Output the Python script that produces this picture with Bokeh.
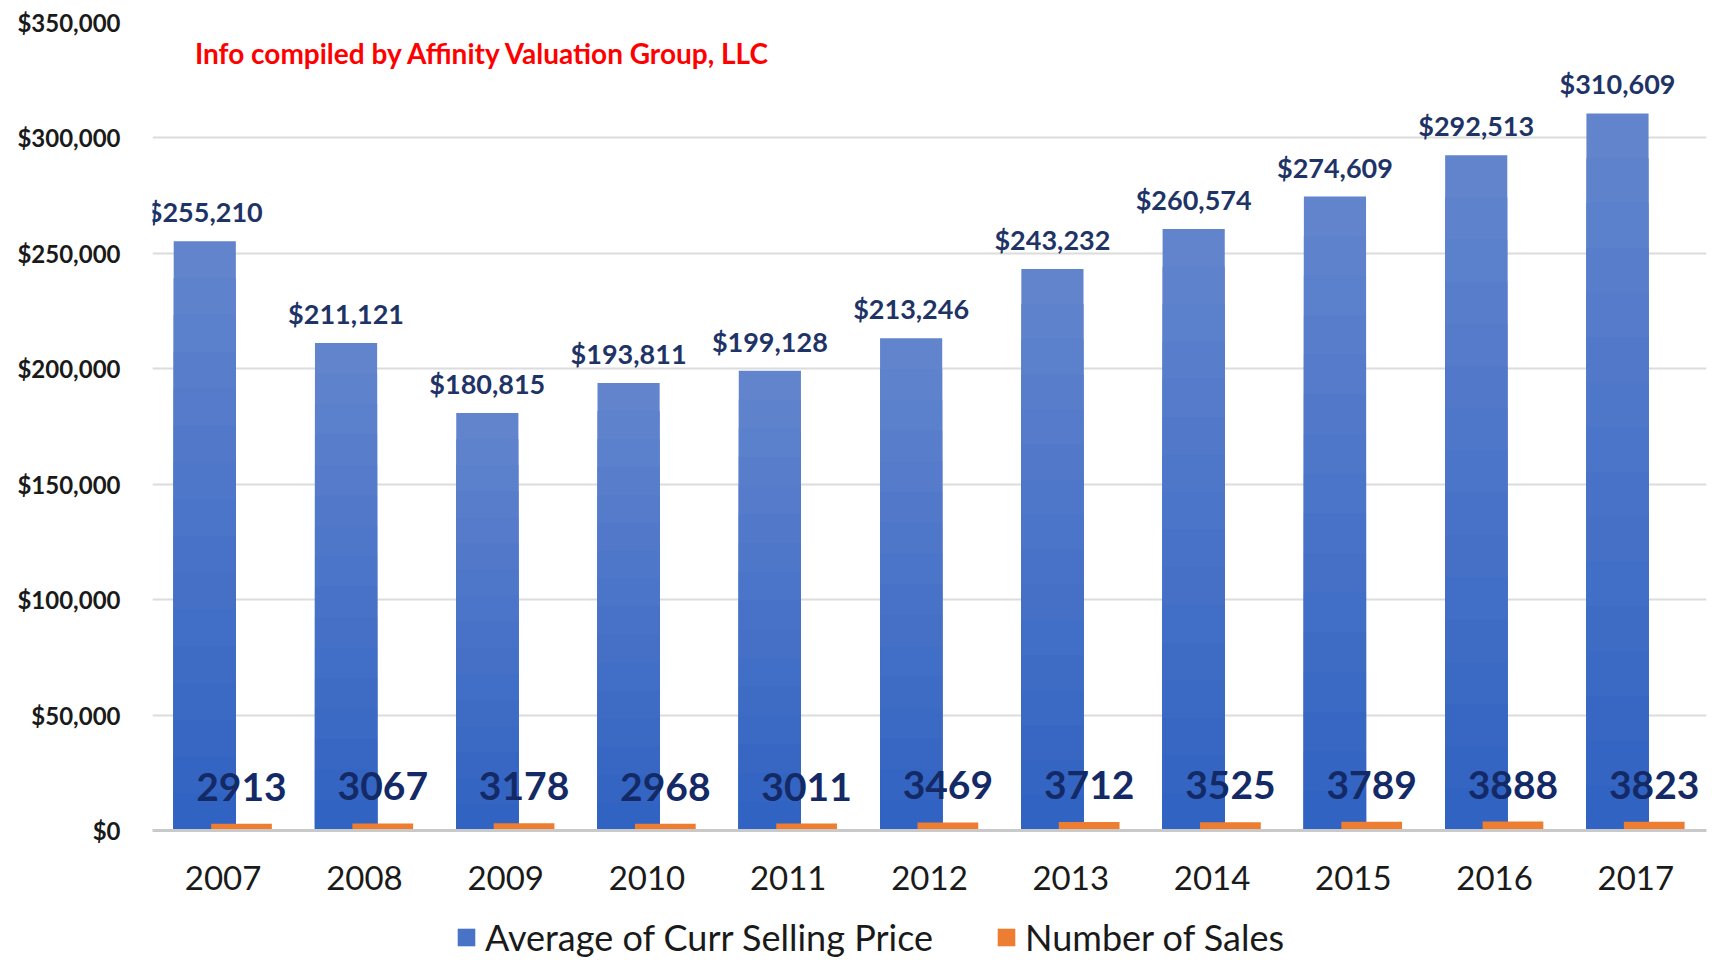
from bokeh.plotting import figure
from bokeh.layouts import column
from bokeh.models import (ColumnDataSource, FactorRange, LabelSet, Label, Legend, LegendItem,
                          NumeralTickFormatter, FixedTicker)
from bokeh.transform import dodge
from bokeh.core.properties import value
from bokeh.embed import file_html
from bokeh.resources import INLINE

years = ["2007", "2008", "2009", "2010", "2011", "2012", "2013", "2014", "2015", "2016", "2017"]
avg_price = [255210, 211121, 180815, 193811, 199128, 213246, 243232, 260574, 274609, 292513, 310609]
num_sales = [2913, 3067, 3178, 2968, 3011, 3469, 3712, 3525, 3789, 3888, 3823]
y_ticks = [0, 50000, 100000, 150000, 200000, 250000, 300000, 350000]

price_labels = ["${:,}".format(v) for v in avg_price]
sales_labels = [str(v) for v in num_sales]

src = ColumnDataSource(dict(years=years, price=avg_price, sales=num_sales,
                            plabel=price_labels, slabel=sales_labels))

FONT = "Lato"
BLUE_LIGHT = (0x62, 0x84, 0xCD)
BLUE_DARK = (0x31, 0x63, 0xC2)
ORANGE = "#ED7D31"

p = figure(x_range=FactorRange(*years), y_range=(0, 350000),
           width=1707, height=915, output_backend="svg", toolbar_location=None,
           min_border_left=152, min_border_right=1, min_border_top=22, min_border_bottom=85)
p.outline_line_color = None
p.background_fill_color = "white"

# blue bars: light top -> dark bottom shading, drawn as nested layers of the same bars
N = 16
for k in range(N):
    t = k / (N - 1)
    col = "#%02x%02x%02x" % tuple(int(round(BLUE_LIGHT[i] + (BLUE_DARK[i] - BLUE_LIGHT[i]) * t))
                                  for i in range(3))
    s = ColumnDataSource(dict(years=years, top=[v * (1 - k / N) for v in avg_price]))
    p.vbar(x=dodge("years", -0.13, range=p.x_range), top="top", width=0.44, source=s,
           fill_color=col, line_color=None)

p.vbar(x=dodge("years", 0.13, range=p.x_range), top="sales", width=0.43, source=src,
       fill_color=ORANGE, line_color=None)

p.add_layout(LabelSet(x=dodge("years", -0.13, range=p.x_range), y="price", text="plabel",
                      source=src, text_align="center", text_baseline="alphabetic", y_offset=19,
                      text_font=value(FONT), text_font_style="bold", text_font_size="27px",
                      text_color="#1F3466"))
p.add_layout(LabelSet(x=dodge("years", 0.13, range=p.x_range), y="sales", text="slabel",
                      source=src, text_align="center", text_baseline="alphabetic", y_offset=23,
                      text_font=value(FONT), text_font_style="bold", text_font_size="39px",
                      text_color="#142A66"))

p.add_layout(Label(x=0.3, y=337000, text="Info compiled by Affinity Valuation Group, LLC",
                   text_font=FONT, text_font_style="bold", text_font_size="28px",
                   text_color="#FF0000", text_baseline="middle"))

p.yaxis.ticker = FixedTicker(ticks=y_ticks)
p.yaxis.formatter = NumeralTickFormatter(format="$0,0")
p.yaxis.axis_line_color = None
p.yaxis.major_tick_line_color = None
p.yaxis.minor_tick_line_color = None
p.yaxis.major_label_standoff = 26
p.yaxis.major_label_text_font = FONT
p.yaxis.major_label_text_font_style = "bold"
p.yaxis.major_label_text_font_size = "24px"
p.yaxis.major_label_text_color = "#1a1a1a"

p.xaxis.axis_line_color = "#C9C9C9"
p.xaxis.axis_line_width = 3
p.xaxis.major_tick_line_color = None
p.xaxis.minor_tick_line_color = None
p.xaxis.major_label_standoff = 29
p.xaxis.major_label_text_font = FONT
p.xaxis.major_label_text_font_size = "33px"
p.xaxis.major_label_text_color = "#1a1a1a"

p.xgrid.grid_line_color = None
p.ygrid.grid_line_color = "#DCDCDC"
p.ygrid.grid_line_width = 2

# legend strip below the chart (its zero-width renderers only supply the legend swatches)
lg = figure(width=1707, height=44, output_backend="svg", toolbar_location=None,
            x_axis_location=None, y_axis_location=None,
            x_range=FactorRange(*years), y_range=(-2000000, -1000000), min_border=0)
lg.outline_line_color = None
lg.grid.grid_line_color = None
mid = "#%02x%02x%02x" % tuple((BLUE_LIGHT[i] + BLUE_DARK[i]) // 2 for i in range(3))
r_blue = lg.vbar(x="years", top="price", width=0, source=src, fill_color=mid, line_color=None)
r_orange = lg.vbar(x="years", top="sales", width=0, source=src, fill_color=ORANGE, line_color=None)
legend = Legend(items=[LegendItem(label="Average of Curr Selling Price", renderers=[r_blue]),
                       LegendItem(label="Number of Sales", renderers=[r_orange])],
                orientation="horizontal", location=(303, 0))
legend.label_text_font = FONT
legend.label_text_font_size = "36px"
legend.label_text_color = "#1a1a1a"
legend.glyph_width = 22
legend.glyph_height = 22
legend.spacing = 62
legend.label_standoff = 8
legend.border_line_color = None
legend.background_fill_alpha = 0
legend.padding = 0
legend.margin = 0
lg.add_layout(legend, "center")

layout = column(p, lg, spacing=0)
open("out.html", "w").write(file_html(layout, INLINE))
